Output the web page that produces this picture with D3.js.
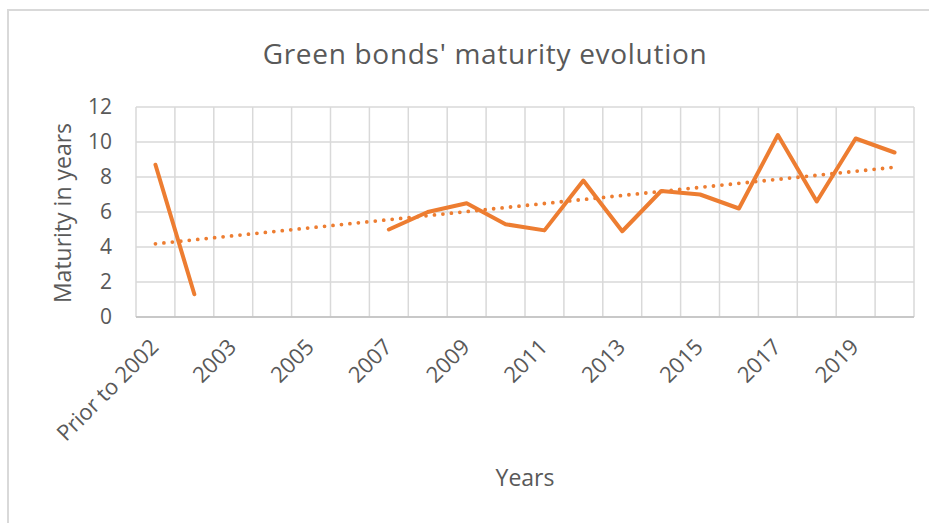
<!DOCTYPE html>
<html>
<head>
<meta charset="utf-8">
<script src="https://cdn.jsdelivr.net/npm/d3@7"></script>
<style>
  html, body { margin: 0; padding: 0; background: #fff; }
  svg { display: block; }
  text { font-family: "Open Sans", sans-serif; fill: #595959; }
</style>
</head>
<body>
<svg id="chart" width="929" height="523"></svg>
<script>
// Categories along the x axis
const categories = ["Prior to 2002", "2002", "2003", "2004", "2005", "2006", "2007", "2008",
  "2009", "2010", "2011", "2012", "2013", "2014", "2015", "2016", "2017", "2018", "2019", "2020"];
// Average maturity in years (null = no issuance that year)
const maturity = [8.7, 1.3, null, null, null, null, 5.0, 6.0, 6.5, 5.3, 4.95, 7.8,
  4.9, 7.2, 7.0, 6.2, 10.4, 6.6, 10.2, 9.4];
// Labels shown on the x axis (every other category)
const xTickLabels = ["Prior to 2002", "2003", "2005", "2007", "2009", "2011", "2013", "2015", "2017", "2019"];
const yTicks = [0, 2, 4, 6, 8, 10, 12];

const title = "Green bonds' maturity evolution";
const xTitle = "Years";
const yTitle = "Maturity in years";

const FONT = '"Open Sans", sans-serif';
const svg = d3.select("#chart");
const W = 929, H = 523;
const margin = { left: 136, right: 15, top: 107, bottom: 206 };
const plotW = W - margin.left - margin.right;
const plotH = H - margin.top - margin.bottom;

// Chart frame
svg.append("rect")
  .attr("x", 8).attr("y", 10)
  .attr("width", W + 20).attr("height", H + 20)
  .attr("fill", "#fff").attr("stroke", "#d9d9d9").attr("stroke-width", 2);

const x = d3.scaleBand().domain(categories).range([0, plotW]).padding(0);
const y = d3.scaleLinear().domain([0, 12]).range([plotH, 0]);

const g = svg.append("g").attr("transform", `translate(${margin.left},${margin.top})`);

// Horizontal gridlines
g.append("g").selectAll("line").data(yTicks).join("line")
  .attr("x1", 0).attr("x2", plotW)
  .attr("y1", d => y(d)).attr("y2", d => y(d))
  .attr("stroke", "#d9d9d9").attr("stroke-width", 1.5);

// Vertical gridlines at category boundaries
const bounds = categories.map(c => x(c)).concat([plotW]);
g.append("g").selectAll("line").data(bounds).join("line")
  .attr("x1", d => d).attr("x2", d => d)
  .attr("y1", 0).attr("y2", plotH)
  .attr("stroke", "#d9d9d9").attr("stroke-width", 1.5);

// Bottom axis line
g.append("line")
  .attr("x1", 0).attr("x2", plotW).attr("y1", plotH).attr("y2", plotH)
  .attr("stroke", "#bfbfbf").attr("stroke-width", 1.5);

// Y axis labels
const yAxis = d3.axisLeft(y).tickValues(yTicks).tickSize(0).tickPadding(24);
const yg = g.append("g").call(yAxis);
yg.select(".domain").remove();
yg.selectAll("text")
  .attr("font-size", 21)
  .style("font-family", FONT)
  .attr("fill", "#595959");

// X axis labels, rotated
const xAxis = d3.axisBottom(x).tickValues(xTickLabels).tickSize(0).tickPadding(0);
const xg = g.append("g").attr("transform", `translate(0,${plotH})`).call(xAxis);
xg.select(".domain").remove();
xg.selectAll("text")
  .attr("font-size", 22)
  .style("font-family", FONT)
  .attr("fill", "#595959")
  .attr("text-anchor", "end")
  .attr("dy", "0.35em")
  .attr("transform", "translate(-1,26) rotate(-45)");

const cx = c => x(c) + x.bandwidth() / 2;

// Linear trendline (least squares on category index)
const pts = categories.map((c, i) => ({ i: i + 1, v: maturity[i] })).filter(d => d.v !== null);
const mx = d3.mean(pts, d => d.i), my = d3.mean(pts, d => d.v);
const slope = d3.sum(pts, d => (d.i - mx) * (d.v - my)) / d3.sum(pts, d => (d.i - mx) ** 2);
const intercept = my - slope * mx;
const trend = [1, categories.length].map(i => ({ c: categories[i - 1], v: intercept + slope * i }));

g.append("path")
  .datum(trend)
  .attr("fill", "none")
  .attr("stroke", "#ed7d31")
  .attr("stroke-width", 3.8)
  .attr("stroke-linecap", "round")
  .attr("stroke-dasharray", "0 8.5")
  .attr("d", d3.line().x(d => cx(d.c)).y(d => y(d.v)));

// Maturity series
const series = categories.map((c, i) => ({ c, v: maturity[i] }));
g.append("path")
  .datum(series)
  .attr("fill", "none")
  .attr("stroke", "#ed7d31")
  .attr("stroke-width", 4)
  .attr("stroke-linejoin", "round")
  .attr("stroke-linecap", "round")
  .attr("d", d3.line().defined(d => d.v !== null).x(d => cx(d.c)).y(d => y(d.v)));

// Titles
svg.append("text")
  .attr("x", 485).attr("y", 64)
  .attr("text-anchor", "middle")
  .attr("font-size", 28)
  .attr("letter-spacing", 0.7)
  .text(title);

svg.append("text")
  .attr("x", 525).attr("y", 486)
  .attr("text-anchor", "middle")
  .attr("font-size", 23)
  .text(xTitle);

svg.append("text")
  .attr("transform", "translate(71,213) rotate(-90)")
  .attr("text-anchor", "middle")
  .attr("font-size", 23)
  .text(yTitle);
</script>
</body>
</html>
